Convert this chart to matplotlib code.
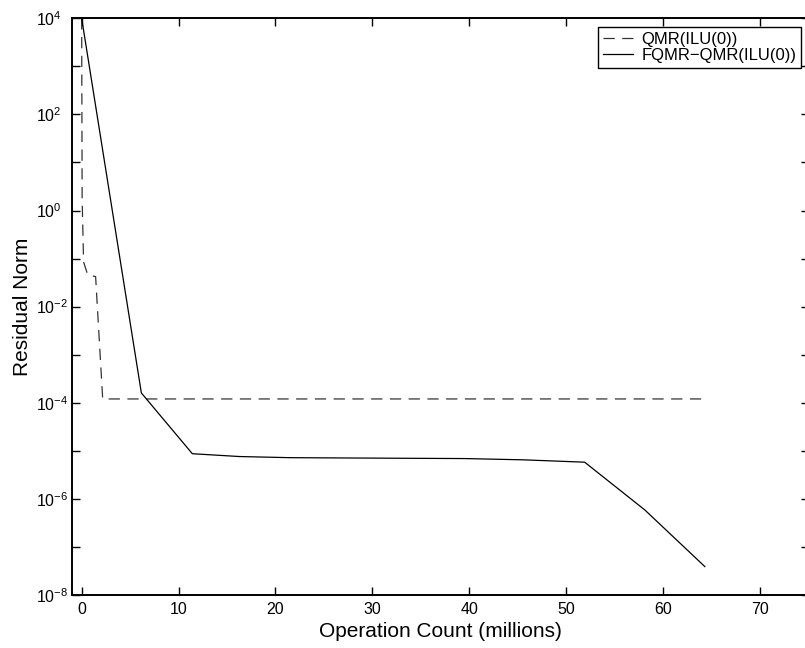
import numpy as np
import matplotlib
matplotlib.use('Agg')
import matplotlib.pyplot as plt
from matplotlib.ticker import LogLocator, FuncFormatter, NullLocator

plt.rcParams['font.family'] = ['Liberation Sans', 'DejaVu Sans']
plt.rcParams['mathtext.fontset'] = 'custom'
plt.rcParams['mathtext.rm'] = 'Liberation Sans'
plt.rcParams['mathtext.it'] = 'Liberation Sans:italic'
plt.rcParams['mathtext.bf'] = 'Liberation Sans:bold'

# QMR(ILU(0)) - dashed
qmr_x = [0.0, 0.05, 0.2, 0.62, 1.44, 2.17, 64.5]
qmr_y = [1e4, 1.7, 8.5e-2, 4.6e-2, 4.2e-2, 1.2e-4, 1.2e-4]

# FQMR-QMR(ILU(0)) - solid
fqmr_x = [0.0, 6.16, 11.42, 16.3, 21.5, 27.0, 33.0, 39.5, 45.5, 51.9, 58.1, 64.3]
fqmr_y = [1e4, 1.6e-4, 8.7e-6, 7.6e-6, 7.2e-6, 7.1e-6, 7.0e-6, 6.9e-6, 6.5e-6, 5.8e-6, 5.9e-7, 3.9e-8]

fig = plt.figure(figsize=(8.05, 6.48), dpi=100)
ax = fig.add_axes([0.0894, 0.0818, 0.915, 0.890])

ax.semilogy(qmr_x, qmr_y, color='#333333', linestyle=(0, (9, 6)), linewidth=0.9,
            label='QMR(ILU(0))')
ax.semilogy(fqmr_x, fqmr_y, color='black', linestyle='-', linewidth=0.9,
            label='FQMR\u2212QMR(ILU(0))')

ax.set_xlim(-1, 75)
ax.set_ylim(1e-8, 1e4)
ax.set_xticks(range(0, 80, 10))
ax.yaxis.set_major_locator(LogLocator(base=10, subs=(1.0,), numticks=20))
ax.yaxis.set_minor_locator(NullLocator())

def fmt(v, pos):
    e = int(round(np.log10(v)))
    if e % 2 == 0:
        return r'$10^{%d}$' % e
    return ''
ax.yaxis.set_major_formatter(FuncFormatter(fmt))

ax.tick_params(direction='in', length=6, width=1, top=True, right=True, labelsize=11.5)
ax.tick_params(axis='x', pad=5)
ax.tick_params(axis='y', pad=26)
for s in ax.spines.values():
    s.set_linewidth(1.4)

ax.set_xlabel('Operation Count (millions)', fontsize=15, labelpad=4)
ax.set_ylabel('Residual Norm', fontsize=15)
ax.yaxis.set_label_coords(-0.054, 0.5)

leg = ax.legend(loc='upper right', bbox_to_anchor=(0.99, 0.985), fontsize=12,
                fancybox=False, framealpha=1, edgecolor='black', borderpad=0.3,
                handlelength=1.8, handletextpad=0.5, labelspacing=0.08,
                borderaxespad=0)
leg.get_frame().set_linewidth(1.0)

# left-align the y tick labels so the "10" bases line up
fig.canvas.draw()
plt.setp(ax.yaxis.get_majorticklabels(), ha='left')

plt.savefig('out.png', dpi=100)
